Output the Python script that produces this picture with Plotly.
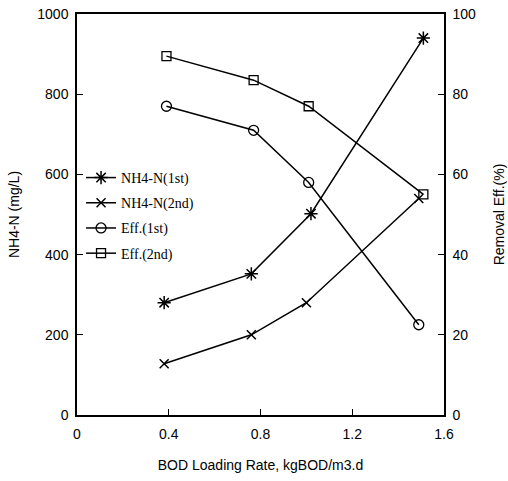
import plotly.graph_objects as go

load_1st = [0.38, 0.76, 1.02, 1.51]
nh4_1st = [280, 352, 502, 940]
load_2nd = [0.38, 0.76, 1.00, 1.49]
nh4_2nd = [128, 200, 280, 540]
eff_load_1st = [0.39, 0.77, 1.01, 1.49]
eff_1st = [77, 71, 58, 22.5]
eff_load_2nd = [0.39, 0.77, 1.01, 1.51]
eff_2nd = [89.5, 83.5, 77, 55]

fig = go.Figure()
line = dict(color="black", width=1.5)
fig.add_trace(go.Scatter(x=load_1st, y=nh4_1st, name="NH4-N(1st)", mode="lines+markers", legendgroup="a",
                         line=line, marker=dict(symbol="asterisk-open", size=11, color="black", line=dict(width=1.5, color="black"))))
fig.add_trace(go.Scatter(x=load_2nd, y=nh4_2nd, name="NH4-N(2nd)", mode="lines+markers", legendgroup="b",
                         line=line, marker=dict(symbol="x-thin-open", size=9, color="black", line=dict(width=1.5, color="black"))))
fig.add_trace(go.Scatter(x=eff_load_1st, y=eff_1st, name="Eff.(1st)", mode="lines+markers", yaxis="y2", legendgroup="c",
                         line=line, marker=dict(symbol="circle-open", size=10, color="black", line=dict(width=1.3, color="black"))))
fig.add_trace(go.Scatter(x=eff_load_2nd, y=eff_2nd, name="Eff.(2nd)", mode="lines+markers", yaxis="y2", legendgroup="d",
                         line=line, marker=dict(symbol="square-open", size=9, color="black", line=dict(width=1.3, color="black"))))

tickfont = dict(family="Liberation Sans, Arial, sans-serif", size=14, color="black")
fig.update_layout(
    width=508, height=481,
    margin=dict(l=77, r=64, t=14, b=66),
    paper_bgcolor="white", plot_bgcolor="white",
    showlegend=True,
    legend=dict(x=0.011, y=0.631, xanchor="left", yanchor="top", bgcolor="rgba(0,0,0,0)",
                font=dict(family="Liberation Serif, Times New Roman, serif", size=14, color="black"),
                itemwidth=30, traceorder="grouped", tracegroupgap=4),
    xaxis=dict(range=[0, 1.6], tickvals=[0, 0.4, 0.8, 1.2, 1.6], ticktext=["0", "0.4", "0.8", "1.2", "1.6"],
               showgrid=False, zeroline=False, showline=True, linecolor="black", linewidth=1.5, mirror=True,
               ticks="inside", ticklen=6, tickcolor="black", tickfont=tickfont, ticklabelstandoff=5,
               automargin=False,
               title=dict(text="BOD Loading Rate, kgBOD/m3.d", font=tickfont, standoff=20)),
    yaxis=dict(range=[0, 1000], tickvals=[0, 200, 400, 600, 800, 1000], showgrid=False, zeroline=False,
               showline=True, linecolor="black", linewidth=1.5, ticks="inside", ticklen=6, tickcolor="black",
               tickfont=tickfont, ticklabelstandoff=4, automargin=False,
               title=dict(text="NH4-N (mg/L)", font=tickfont, standoff=14)),
    yaxis2=dict(range=[0, 100], tickvals=[0, 20, 40, 60, 80, 100], overlaying="y", side="right",
                showgrid=False, zeroline=False, showline=True, linecolor="black", linewidth=1.5,
                ticks="inside", ticklen=6, tickcolor="black", tickfont=tickfont, ticklabelstandoff=4,
                automargin=False,
                title=dict(text="Removal Eff.(%)", font=tickfont, standoff=19)),
)

fig.write_html("out.html")
